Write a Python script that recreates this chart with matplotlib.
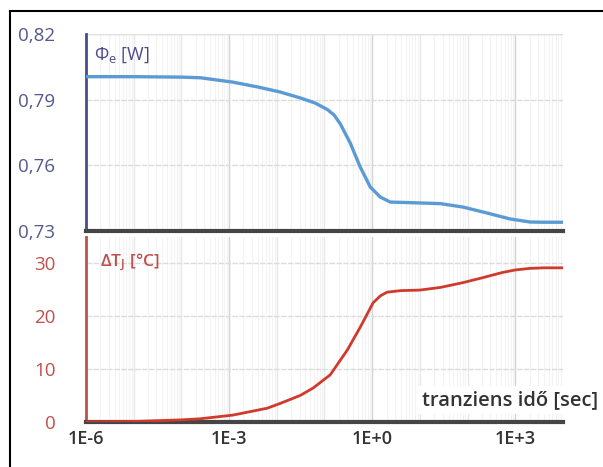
import matplotlib
matplotlib.use("Agg")
import matplotlib.pyplot as plt
from matplotlib.lines import Line2D
import numpy as np

plt.rcParams['font.family'] = ['Open Sans', 'DejaVu Sans']
plt.rcParams['mathtext.fontset'] = 'custom'
plt.rcParams['mathtext.rm'] = 'Open Sans'
plt.rcParams['mathtext.it'] = 'Open Sans'

# radiant flux vs transient time (time given as log10 of seconds)
flux_logt = [-6, -5, -4, -3.6, -2.92, -2.4, -1.93, -1.51, -1.2, -0.94, -0.8, -0.67, -0.46,
             -0.25, -0.04, 0.17, 0.38, 0.7, 1.0, 1.43, 1.91, 2.41, 2.89, 3.31, 3.6, 4.0]
flux_w = [0.8005, 0.8005, 0.8003, 0.8000, 0.7980, 0.7958, 0.7935, 0.7908, 0.7885, 0.7855,
          0.7830, 0.7790, 0.7702, 0.7592, 0.7501, 0.7455, 0.7432, 0.7430, 0.7428, 0.7425,
          0.7409, 0.7382, 0.7355, 0.7341, 0.7340, 0.7340]

# junction temperature rise
temp_logt = [-6, -5, -4.66, -4, -3.61, -2.92, -2.2, -1.93, -1.51, -1.24, -0.88, -0.52,
             -0.25, 0.02, 0.17, 0.31, 0.6, 1.0, 1.43, 1.9, 2.3, 2.72, 3.0, 3.31, 3.6, 4.0]
temp_c = [0, 0.1, 0.2, 0.4, 0.6, 1.3, 2.6, 3.5, 5.0, 6.4, 8.9, 13.6,
          17.9, 22.5, 23.8, 24.5, 24.8, 24.9, 25.4, 26.3, 27.2, 28.2, 28.7, 29.0, 29.1, 29.1]

xtick_vals = [1e-6, 1e-3, 1e0, 1e3]
xtick_labels = ['1E-6', '1E-3', '1E+0', '1E+3']
flux_ticks = [0.73, 0.76, 0.79, 0.82]
flux_labels = ['0,73', '0,76', '0,79', '0,82']
temp_ticks = [0, 10, 20, 30]

blue_txt = '#55588f'
red_txt = '#c0504d'

fig = plt.figure(figsize=(6.03, 4.67), dpi=100)
ax1 = fig.add_axes([0.1426, 0.5054, 0.791, 0.4218])
ax2 = fig.add_axes([0.1426, 0.0964, 0.791, 0.397])


def excel_grid(ax, yticks):
    for dec in range(-6, 4):
        c = '#d2d2d2' if dec % 3 == 0 else '#e8e8e8'
        ax.axvline(10.0 ** dec, color=c, lw=1.0, zorder=0)
        for m in range(2, 10):
            ax.axvline(m * 10.0 ** dec, color='#f3f3f3', lw=0.8, zorder=0)
    for y in yticks[1:]:
        ax.axhline(y, color='#dcdcdc', lw=1.0, ls=(0, (4, 1)), zorder=0)


for ax in (ax1, ax2):
    ax.set_xscale('log')
    ax.set_xlim(1e-6, 1e4)
    ax.spines['top'].set_visible(False)
    ax.spines['right'].set_visible(False)
    ax.spines['bottom'].set_color('#454545')
    ax.spines['bottom'].set_linewidth(3)
    ax.spines['left'].set_linewidth(2)
    ax.tick_params(length=0, which='both')
    ax.minorticks_off()

# top: flux
excel_grid(ax1, flux_ticks)
ax1.axhline(0.82, color='#e0e0e0', lw=1.0, zorder=0)
ax1.plot(10.0 ** np.array(flux_logt), flux_w, color='#5b9bd5', lw=2.4, zorder=3)
ax1.set_ylim(0.73, 0.82)
ax1.set_yticks(flux_ticks)
ax1.set_yticklabels(flux_labels, color=blue_txt, fontsize=13.5)
ax1.set_xticks(xtick_vals)
ax1.set_xticklabels([])
ax1.spines['left'].set_color('#4b4b8c')
ax1.tick_params(axis='y', pad=22)
ax1.text(0.017, 0.893, r'$\Phi_\mathregular{e}$ [W]', transform=ax1.transAxes, color='#4b4b8c',
         fontsize=13, va='center', ha='left')

# bottom: temperature
excel_grid(ax2, temp_ticks)
ax2.plot(10.0 ** np.array(temp_logt), temp_c, color='#d03a2c', lw=2.0, zorder=3)
ax2.set_ylim(0, 35)
ax2.set_yticks(temp_ticks)
ax2.set_yticklabels([str(t) for t in temp_ticks], color=red_txt, fontsize=13.5)
ax2.set_xticks(xtick_vals)
ax2.set_xticklabels(xtick_labels, color='#333333', fontsize=13, fontweight='semibold')
ax2.spines['left'].set_color('#c0504d')
ax2.tick_params(axis='y', pad=22)
ax2.tick_params(axis='x', pad=6)
ax2.text(0.03, 0.857, r'$\mathregular{\Delta T_J}$ [°C]', transform=ax2.transAxes,
         color='#c0504d', fontsize=12.5, fontweight='semibold', va='center', ha='left')

fig.text(0.992, 0.1435, 'tranziens idő [sec]', ha='right', va='center', fontsize=14.5,
         color='#333333', fontweight='semibold',
         bbox=dict(facecolor='white', edgecolor='none', pad=3))

# outer frame, open towards right and bottom
fig.add_artist(Line2D([10 / 603, 1.0], [1 - 11 / 467, 1 - 11 / 467], color='black', lw=1.5))
fig.add_artist(Line2D([10 / 603, 10 / 603], [0.0, 1 - 11 / 467], color='black', lw=1.5))

fig.savefig('out.png', dpi=100, facecolor='white')
